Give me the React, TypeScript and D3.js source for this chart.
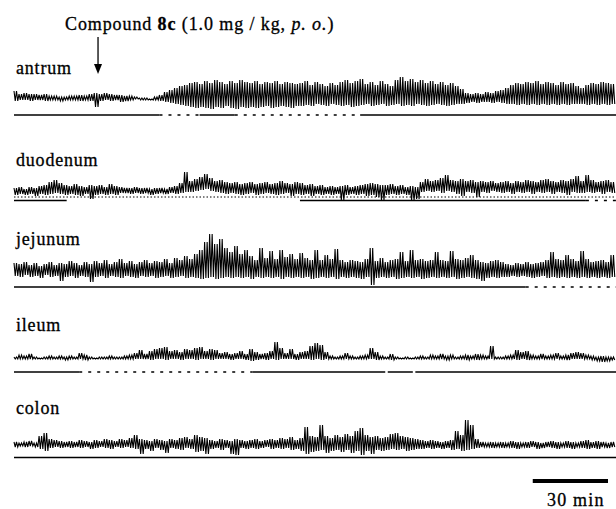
import React from 'react';
import * as d3 from 'd3';

const W = 616;
const H = 509;
const FONT = "'Liberation Serif', 'Times New Roman', serif";

// recording time in minutes, envelope read in 2-min bins
const TOTAL_MIN = 240;
const BIN_MIN = 2;
const DOSE_MIN = 33.5;
const SCALE_BAR_MIN = 30;

const channelNames = ['antrum', 'duodenum', 'jejunum', 'ileum', 'colon'];

// upper / lower envelope of each trace, per bin (arbitrary units above resting level)
const antrumHi = [
  7, 4, 5, 4, 4, 3, 4, 2, 2, 1, 1, 2, 2, 3, 2, 4, 5, 4, 5, 4,
  3, 3, 2, 2, 1, 0, 0, -1, 1, 3, 6, 8, 10, 12, 13, 15, 16, 14, 17, 15,
  18, 16, 14, 17, 15, 18, 16, 15, 17, 14, 16, 15, 17, 14, 16, 15, 14, 15, 17, 13,
  16, 14, 12, 15, 13, 16, 18, 15, 17, 19, 14, 16, 13, 17, 14, 12, 18, 21, 17, 19,
  16, 18, 15, 17, 14, 16, 13, 15, 12, 9, 5, 4, 5, 4, 6, 5, 7, 8, 10, 13,
  15, 14, 16, 15, 17, 14, 16, 15, 13, 16, 14, 15, 12, 10, 13, 15, 14, 16, 15, 14,
];
const antrumLo = [
  -3, -2, -2, -3, -2, -2, -3, -2, -2, -3, -2, -2, -2, -3, -2, -3, -9, -3, -2, -3,
  -2, -4, -3, -2, -1, -2, -2, -2, -2, -3, -4, -5, -6, -7, -8, -9, -10, -9, -10, -11,
  -9, -10, -8, -10, -11, -9, -10, -9, -10, -9, -8, -10, -9, -8, -9, -10, -8, -8, -7, -8,
  -6, -7, -8, -6, -7, -8, -7, -9, -8, -7, -6, -8, -7, -6, -8, -7, -6, -8, -7, -8,
  -6, -7, -8, -7, -6, -7, -8, -7, -6, -6, -5, -4, -5, -4, -4, -5, -4, -5, -6, -6,
  -7, -6, -7, -6, -7, -6, -7, -6, -7, -6, -7, -6, -6, -6, -7, -6, -7, -6, -7, -6,
];
const duodenumHi = [
  3, 4, 2, 4, 3, 5, 6, 9, 11, 8, 6, 5, 7, 5, 4, 6, 5, 6, 4, 7,
  5, 4, 3, 3, 4, 3, 3, 2, 3, 3, 2, 4, 5, 8, 19, 10, 12, 14, 17, 13,
  10, 11, 9, 8, 9, 7, 8, 9, 7, 8, 9, 7, 8, 10, 8, 7, 9, 8, 6, 7,
  5, 6, 4, 5, 4, 5, 6, 4, 5, 6, 7, 8, 7, 6, 6, 7, 5, 6, 4, 5,
  4, 9, 12, 10, 11, 13, 16, 11, 10, 12, 10, 11, 9, 10, 9, 10, 8, 9, 10, 8,
  10, 9, 11, 10, 9, 11, 12, 10, 9, 11, 10, 12, 15, 10, 16, 11, 9, 10, 11, 9,
];
const duodenumLo = [
  -4, -3, -4, -3, -5, -3, -4, -3, -2, -3, -4, -3, -4, -5, -3, -8, -4, -3, -4, -3,
  -4, -2, -2, -3, -2, -3, -2, -4, -3, -2, -3, -2, -3, -2, -1, -1, 0, 1, 2, 0,
  -1, -2, -3, -2, -3, -4, -3, -2, -4, -3, -2, -3, -4, -3, -2, -5, -3, -4, -3, -5,
  -3, -4, -3, -4, -3, -9, -4, -3, -4, -3, -5, -4, -6, -9, -4, -3, -4, -3, -4, -9,
  -8, -1, 0, -1, 0, -2, 0, -1, -3, -5, -1, -2, -6, -1, -2, 0, -1, -2, -1, -3,
  -1, -2, -1, -3, -1, -2, -1, -3, -1, -2, -4, -1, -2, -2, -1, -2, -1, -3, -1, -2,
];
const jejunumHi = [
  9, 8, 10, 7, 9, 6, 8, 10, 7, 9, 8, 11, 9, 7, 10, 8, 11, 9, 12, 8,
  10, 13, 9, 11, 8, 10, 12, 9, 11, 10, 13, 9, 14, 12, 16, 13, 18, 22, 30, 38,
  28, 33, 24, 20, 26, 18, 22, 16, 12, 24, 14, 21, 13, 22, 15, 18, 13, 19, 14, 12,
  22, 12, 17, 13, 23, 12, 10, 12, 11, 10, 13, 24, 11, 14, 10, 12, 13, 20, 11, 22,
  12, 13, 11, 12, 20, 12, 11, 21, 13, 12, 14, 17, 12, 10, 9, 11, 12, 10, 8, 7,
  9, 8, 10, 8, 9, 10, 12, 20, 13, 12, 17, 13, 11, 21, 13, 10, 11, 12, 10, 17,
];
const jejunumLo = [
  -4, -5, -3, -5, -4, -6, -3, -5, -4, -9, -5, -4, -6, -4, -5, -10, -5, -4, -6, -4,
  -5, -6, -4, -5, -6, -4, -5, -4, -6, -5, -4, -6, -5, -4, -6, -5, -6, -7, -6, -5,
  -7, -6, -5, -6, -5, -6, -5, -7, -5, -6, -5, -6, -5, -7, -5, -6, -5, -6, -5, -7,
  -6, -5, -6, -5, -7, -5, -6, -5, -6, -7, -5, -13, -6, -5, -6, -5, -7, -6, -5, -6,
  -5, -7, -6, -5, -6, -5, -6, -5, -7, -6, -5, -6, -7, -9, -6, -5, -6, -5, -5, -4,
  -5, -4, -5, -6, -5, -4, -6, -5, -6, -5, -6, -5, -6, -5, -6, -5, -6, -5, -6, -5,
];
const ileumHi = [
  1, 3, 2, 4, 1, 0, 1, 2, 1, 2, 1, 2, 1, 5, 3, 1, 0, 1, 1, 2,
  1, 1, 2, 3, 5, 8, 4, 7, 9, 10, 11, 7, 8, 6, 9, 8, 10, 11, 7, 9,
  8, 5, 6, 4, 5, 7, 4, 9, 6, 4, 5, 7, 16, 10, 5, 9, 4, 6, 7, 12,
  15, 13, 6, 2, 1, 2, 5, 2, 1, 2, 3, 10, 6, 2, 1, 4, 1, 0, 1, 0,
  1, 2, 1, 3, 2, 4, 2, 3, 1, 2, 3, 2, 4, 3, 2, 12, 1, 1, 2, 3,
  8, 6, 7, 3, 2, 4, 2, 3, 5, 2, 3, 5, 6, 5, 3, 2, 1, 2, 1, 1,
];
const ileumLo = [
  -1, -1, -1, -1, -1, -1, -1, -1, -1, -1, -2, -1, -1, -1, -2, -1, -1, -1, -1, -1,
  -1, -1, -1, -1, -1, -1, -1, -2, -1, -1, -2, -1, -1, -2, -1, -1, -2, -1, -1, -2,
  -1, -1, -1, -2, -1, -1, -2, -3, -2, -1, -2, -1, -2, -1, -1, -1, -2, -1, -1, -2,
  -1, -2, -1, -1, -1, -1, -1, -1, -1, -1, -1, -1, -2, -1, -1, -2, -1, -1, -1, -1,
  -1, -1, -1, -1, -1, -1, -2, -1, -1, -1, -2, -1, -2, -1, -1, -1, -1, -1, -1, -1,
  -2, -1, -2, -1, -1, -1, -1, -1, -1, -1, -2, -1, -1, -1, -1, -2, -3, -4, -3, -2,
];
const colonHi = [
  3, 2, 3, 4, 2, 9, 12, 6, 5, 4, 3, 4, 3, 5, 4, 3, 5, 4, 6, 5,
  4, 6, 5, 7, 10, 6, 5, 4, 6, 5, 4, 6, 5, 7, 8, 6, 10, 8, 7, 5,
  4, 6, 5, 4, 6, 5, 4, 5, 6, 4, 5, 6, 5, 7, 6, 8, 5, 7, 18, 9,
  8, 20, 9, 7, 10, 8, 11, 9, 14, 17, 10, 8, 9, 7, 8, 11, 12, 9, 8, 7,
  6, 5, 4, 5, 4, 3, 4, 5, 14, 10, 25, 20, 6, 3, 2, 3, 2, 3, 2, 4,
  3, 2, 3, 4, 3, 2, 3, 4, 3, 2, 4, 3, 2, 4, 5, 3, 4, 3, 2, 3,
];
const colonLo = [
  -2, -1, -2, -1, -2, -4, -6, -3, -2, -3, -2, -3, -2, -3, -2, -4, -3, -2, -3, -4,
  -2, -3, -2, -3, -4, -9, -4, -6, -3, -5, -8, -3, -4, -5, -3, -4, -7, -6, -9, -4,
  -3, -5, -3, -9, -10, -3, -4, -3, -4, -3, -2, -4, -3, -4, -3, -5, -4, -6, -9, -7,
  -6, -5, -8, -6, -5, -7, -5, -8, -6, -10, -6, -9, -5, -6, -5, -4, -5, -4, -6, -5,
  -4, -4, -3, -4, -3, -4, -3, -5, -4, -6, -5, -4, -3, -2, -2, -3, -2, -3, -2, -3,
  -4, -2, -3, -2, -4, -3, -2, -3, -4, -2, -3, -4, -2, -3, -4, -3, -4, -2, -3, -2,
];

// recorder zero lines under each trace (minutes, solid or broken in the original scan)
const antrumZero = [[0, 58, 'solid'], [58, 74, 'dash'], [74, 88, 'solid'], [88, 138, 'dash'], [138, 240, 'solid']];
const duodenumZero = [[0, 21, 'solid'], [114, 228, 'solid'], [228, 240, 'dash']];
const jejunumZero = [[0, 204, 'solid'], [204, 240, 'dash']];
const ileumZero = [[0, 26, 'solid'], [26, 95, 'dash'], [95, 148, 'solid'], [149, 159, 'solid'], [160, 240, 'solid']];
const colonZero = [[0, 240, 'solid']];

const traces = [
  { hi: antrumHi, lo: antrumLo, zero: antrumZero },
  { hi: duodenumHi, lo: duodenumLo, zero: duodenumZero },
  { hi: jejunumHi, lo: jejunumLo, zero: jejunumZero },
  { hi: ileumHi, lo: ileumLo, zero: ileumZero },
  { hi: colonHi, lo: colonLo, zero: colonZero },
];

// vertical layout of each channel: label baseline, resting level, zero line, dotted guide
const LAYOUT = [
  { label: 74, rest: 98, zero: 115, dots: null },
  { label: 166, rest: 191, zero: 200.5, dots: 197 },
  { label: 245, rest: 272, zero: 287, dots: null },
  { label: 331, rest: 358, zero: 372, dots: null },
  { label: 414, rest: 445, zero: 457.5, dots: null },
];

export default function App() {
  const x = d3.scaleLinear().domain([0, TOTAL_MIN]).range([14, 616]);
  const xDose = x(DOSE_MIN);
  const barLen = x(SCALE_BAR_MIN) - x(0);
  const barRight = 608;
  const textStyle = { fontFamily: FONT, fill: '#000', stroke: '#000', strokeWidth: 0.3 };

  return (
    <svg width={W} height={H} style={{ position: 'absolute', left: 0, top: 0, background: '#fff' }}>
      <text x={65} y={30} fontSize={18} letterSpacing={0.9} style={textStyle}>
        Compound <tspan fontWeight="bold">8c</tspan> (1.0 mg / kg, <tspan fontStyle="italic">p. o.</tspan>)
      </text>

      {/* dosing arrow */}
      <line x1={xDose} x2={xDose} y1={37} y2={66} stroke="#000" strokeWidth={1.3} />
      <polygon points={`${xDose - 4},64 ${xDose + 4},64 ${xDose},74`} fill="#000" />

      {traces.map((tr, k) => {
        const L = LAYOUT[k];
        const y = d3.scaleLinear().domain([-20, 40]).range([L.rest + 20, L.rest - 40]);
        // each 2-min bin drawn as two swings between its upper and lower envelope
        const q = BIN_MIN / 4;
        const pts: [number, number][] = tr.hi.flatMap((h, i) => [
          [i * BIN_MIN, h],
          [i * BIN_MIN + q, tr.lo[i]],
          [i * BIN_MIN + 2 * q, h],
          [i * BIN_MIN + 3 * q, tr.lo[i]],
        ] as [number, number][]);
        const line = d3.line<[number, number]>().x(d => x(d[0])).y(d => y(d[1]));
        return (
          <g key={k}>
            <text x={16} y={L.label} fontSize={18} letterSpacing={0.8} style={textStyle}>
              {channelNames[k]}
            </text>
            {L.dots !== null && (
              <line x1={x(0)} x2={x(TOTAL_MIN)} y1={L.dots} y2={L.dots}
                stroke="#000" strokeWidth={1} strokeDasharray="1.5,2" />
            )}
            {tr.zero.map((s, j) => (
              <line key={j} x1={x(s[0] as number)} x2={x(s[1] as number)} y1={L.zero} y2={L.zero}
                stroke="#000" strokeWidth={1.5} strokeDasharray={s[2] === 'dash' ? '3,6' : undefined} />
            ))}
            <path d={line(pts) || ''} fill="none" stroke="#000" strokeWidth={1.1} strokeLinejoin="miter" />
          </g>
        );
      })}

      {/* time scale bar */}
      <rect x={barRight - barLen} y={479} width={barLen} height={4} fill="#000" />
      <text x={547} y={506} fontSize={18} letterSpacing={1.2} style={textStyle}>30 min</text>
    </svg>
  );
}
